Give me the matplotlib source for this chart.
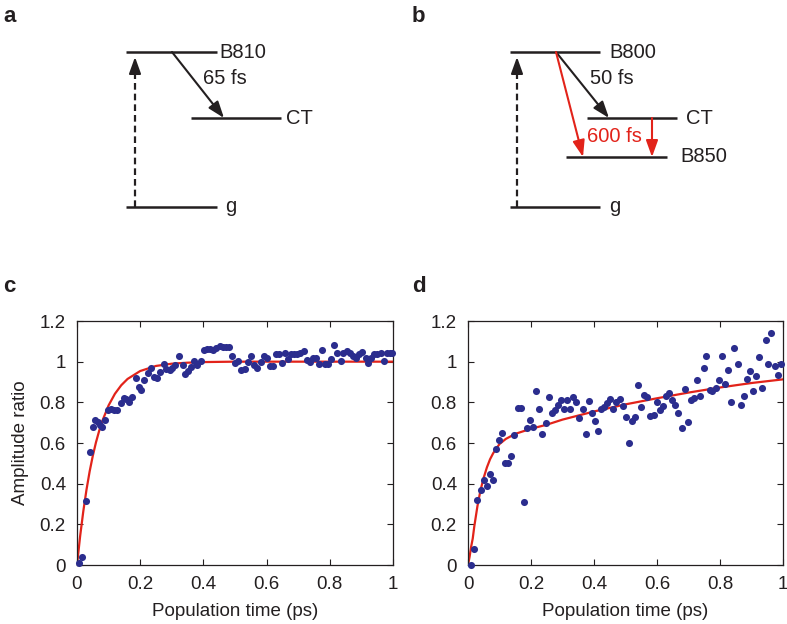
import matplotlib
matplotlib.use("Agg")
import matplotlib.pyplot as plt

plt.rcParams["font.family"] = ["Liberation Sans", "DejaVu Sans"]

DOT = "#2b2d8e"
RED = "#e2231a"
INK = "#231f20"

# panel c: B810 data and single-exponential fit (65 fs)
time_c = [0.005, 0.015, 0.03, 0.04, 0.05, 0.058, 0.067, 0.074, 0.08, 0.089,
          0.098, 0.108, 0.116, 0.127, 0.138, 0.148, 0.156, 0.166, 0.174, 0.188,
          0.195, 0.204, 0.213, 0.224, 0.234, 0.243, 0.253, 0.262, 0.274, 0.283,
          0.293, 0.302, 0.311, 0.323, 0.334, 0.343, 0.351, 0.361, 0.37, 0.38,
          0.391, 0.401, 0.412, 0.422, 0.431, 0.44, 0.451, 0.461, 0.472, 0.48,
          0.491, 0.501, 0.51, 0.52, 0.531, 0.541, 0.55, 0.56, 0.57, 0.581,
          0.591, 0.6, 0.61, 0.62, 0.631, 0.64, 0.649, 0.659, 0.668, 0.678,
          0.687, 0.697, 0.707, 0.717, 0.727, 0.737, 0.747, 0.756, 0.766, 0.776,
          0.786, 0.795, 0.805, 0.814, 0.824, 0.834, 0.843, 0.853, 0.864, 0.873,
          0.883, 0.892, 0.902, 0.913, 0.922, 0.931, 0.941, 0.95, 0.961, 0.97,
          0.98, 0.99, 0.998]
ratio_c = [0.01, 0.04, 0.315, 0.555, 0.678, 0.714, 0.703, 0.69, 0.68, 0.714,
           0.763, 0.765, 0.762, 0.762, 0.798, 0.82, 0.816, 0.80, 0.825, 0.92,
           0.873, 0.862, 0.91, 0.942, 0.97, 0.926, 0.918, 0.95, 0.99, 0.965,
           0.957, 0.97, 0.985, 1.03, 0.985, 0.94, 0.954, 0.974, 1.004, 0.985,
           1.004, 1.056, 1.06, 1.06, 1.056, 1.069, 1.078, 1.072, 1.072, 1.072,
           1.03, 0.993, 1.004, 0.958, 0.963, 1.0, 1.03, 0.985, 0.967, 1.0,
           1.03, 1.02, 0.98, 0.98, 1.037, 1.037, 0.995, 1.045, 1.012, 1.037,
           1.037, 1.037, 1.045, 1.053, 1.009, 1.0, 1.02, 1.02, 0.99, 1.058,
           0.99, 0.99, 1.012, 1.081, 1.045, 1.004, 1.045, 1.053, 1.045, 1.03,
           1.02, 1.037, 1.048, 1.02, 0.995, 1.02, 1.04, 1.037, 1.042, 1.004,
           1.045, 1.045, 1.045]
fit_t_c = [0.0, 0.01, 0.02, 0.03, 0.04, 0.05, 0.06, 0.07, 0.08, 0.1, 0.12,
           0.14, 0.16, 0.2, 0.25, 0.3, 0.35, 0.4, 0.5, 1.0]
fit_y_c = [0.0, 0.143, 0.265, 0.37, 0.46, 0.537, 0.603, 0.659, 0.708, 0.785,
           0.842, 0.884, 0.915, 0.954, 0.979, 0.99, 0.995, 0.998, 1.0, 1.0]

# panel d: B800 data and fit
time_d = [0.01, 0.02, 0.03, 0.04, 0.05, 0.059, 0.069, 0.079, 0.088, 0.098,
          0.108, 0.117, 0.128, 0.138, 0.147, 0.158, 0.167, 0.177, 0.187, 0.197,
          0.206, 0.217, 0.226, 0.236, 0.247, 0.256, 0.266, 0.276, 0.286, 0.295,
          0.305, 0.314, 0.325, 0.334, 0.344, 0.353, 0.364, 0.374, 0.383, 0.394,
          0.403, 0.413, 0.422, 0.433, 0.441, 0.452, 0.461, 0.471, 0.481, 0.491,
          0.501, 0.511, 0.521, 0.53, 0.541, 0.55, 0.56, 0.569, 0.579, 0.589,
          0.6, 0.608, 0.619, 0.63, 0.638, 0.649, 0.658, 0.668, 0.679, 0.689,
          0.697, 0.708, 0.717, 0.727, 0.738, 0.748, 0.757, 0.767, 0.776, 0.786,
          0.797, 0.807, 0.816, 0.826, 0.836, 0.846, 0.857, 0.866, 0.875, 0.886,
          0.896, 0.905, 0.915, 0.924, 0.934, 0.945, 0.953, 0.963, 0.974, 0.984,
          0.995]
ratio_d = [0.0, 0.077, 0.32, 0.37, 0.42, 0.39, 0.45, 0.42, 0.57, 0.617,
           0.65, 0.50, 0.50, 0.535, 0.638, 0.772, 0.772, 0.308, 0.674, 0.712,
           0.679, 0.856, 0.769, 0.642, 0.699, 0.826, 0.748, 0.761, 0.789, 0.81,
           0.769, 0.813, 0.769, 0.826, 0.802, 0.723, 0.769, 0.642, 0.807, 0.75,
           0.709, 0.658, 0.769, 0.777, 0.799, 0.818, 0.766, 0.802, 0.818, 0.781,
           0.728, 0.602, 0.709, 0.728, 0.884, 0.777, 0.835, 0.826, 0.732, 0.74,
           0.802, 0.761, 0.781, 0.831, 0.846, 0.81, 0.786, 0.748, 0.676, 0.867,
           0.704, 0.81, 0.823, 0.912, 0.83, 0.97, 1.026, 0.859, 0.854, 0.872,
           0.908, 1.028, 0.889, 0.961, 0.802, 1.067, 0.99, 0.786, 0.831, 0.913,
           0.956, 0.854, 0.928, 1.023, 0.872, 1.105, 0.99, 1.142, 0.977, 0.933,
           0.99]
fit_t_d = [0.0, 0.005, 0.01, 0.015, 0.02, 0.03, 0.04, 0.05, 0.06, 0.07, 0.08,
           0.1, 0.12, 0.15, 0.2, 0.25, 0.3, 0.4, 0.5, 0.6, 0.7, 0.8, 0.9, 1.0]
fit_y_d = [0.0, 0.04, 0.09, 0.13, 0.19, 0.29, 0.37, 0.43, 0.48, 0.52, 0.55,
           0.595, 0.62, 0.645, 0.67, 0.69, 0.715, 0.755, 0.79, 0.82, 0.848,
           0.873, 0.895, 0.913]

x_ticks = [0, 0.2, 0.4, 0.6, 0.8, 1]
x_labels = ["0", "0.2", "0.4", "0.6", "0.8", "1"]
y_ticks = [0, 0.2, 0.4, 0.6, 0.8, 1, 1.2]
y_labels = ["0", "0.2", "0.4", "0.6", "0.8", "1", "1.2"]

W, H = 787, 624
fig = plt.figure(figsize=(W / 100, H / 100), dpi=100)

# overlay in pixel coordinates for the level diagrams and panel letters
ov = fig.add_axes([0, 0, 1, 1])
ov.set_xlim(0, W)
ov.set_ylim(H, 0)
ov.axis("off")

DIAG_FS = 14.5


def level(x0, x1, y, label, lx, color=INK):
    ov.plot([x0, x1], [y, y], color=INK, lw=1.8, solid_capstyle="butt")
    ov.text(lx, y, label, fontsize=DIAG_FS, color=color, ha="left", va="center")


def arrow(tail, tip, color=INK):
    ov.annotate("", xy=tip, xytext=tail,
                arrowprops=dict(arrowstyle="-|>,head_length=1.0,head_width=0.36",
                                mutation_scale=10, color=color, lw=1.5,
                                shrinkA=0, shrinkB=0))


def dashed_arrow(x, y_low, y_tip):
    ov.plot([x, x], [y_low, y_tip + 12], color=INK, lw=1.6, dashes=(3, 1.8))
    arrow((x, y_tip + 13), (x, y_tip))


# panel a
level(126, 217, 52, "B810", 219)
level(191, 281, 118, "CT", 286)
level(126, 217, 207, "g", 225)
dashed_arrow(135, 207, 57)
arrow((172, 52), (224, 118))
ov.text(203, 79, "65 fs", fontsize=DIAG_FS, color=INK, va="center")

# panel b
level(510, 600, 52, "B800", 609)
level(587, 677, 118, "CT", 686)
level(566, 667, 157, "B850", 680)
level(510, 600, 207, "g", 609)
dashed_arrow(517, 207, 57)
arrow((556, 52), (609, 118))
arrow((556, 52), (583, 157), color=RED)
arrow((652, 118), (652, 157), color=RED)
ov.text(590, 78, "50 fs", fontsize=DIAG_FS, color=INK, va="center")
ov.text(587, 137, "600 fs", fontsize=DIAG_FS, color=RED, va="center")

for lab, x, y in [("a", 3, 16), ("b", 412, 16), ("c", 3, 286), ("d", 412, 286)]:
    ov.text(x, y, lab, fontsize=16, fontweight="bold", color=INK,
            ha="left", va="center")


def panel(rect, t, r, ft, fy, ylabel):
    ax = fig.add_axes(rect)
    ax.plot(ft, fy, color=RED, lw=1.6, zorder=2)
    ax.scatter(t, r, s=26, color=DOT, linewidths=0, zorder=3, clip_on=False)
    ax.set_xlim(0, 1)
    ax.set_ylim(0, 1.2)
    ax.set_xticks(x_ticks)
    ax.set_xticklabels(x_labels)
    ax.set_yticks(y_ticks)
    ax.set_yticklabels(y_labels)
    ax.tick_params(direction="in", length=4, width=0.8, top=True, right=True,
                   labelsize=13.5, colors=INK, pad=8)
    for sp in ax.spines.values():
        sp.set_linewidth(0.9)
        sp.set_color(INK)
    ax.set_xlabel("Population time (ps)", fontsize=13.5, color=INK, labelpad=7)
    if ylabel:
        ax.set_ylabel("Amplitude ratio", fontsize=13.5, color=INK, labelpad=8)
    return ax


panel([77 / W, 59 / H, 316 / W, 244 / H], time_c, ratio_c, fit_t_c, fit_y_c, True)
panel([468 / W, 59 / H, 315 / W, 244 / H], time_d, ratio_d, fit_t_d, fit_y_d, False)

fig.savefig("out.png", dpi=100)
